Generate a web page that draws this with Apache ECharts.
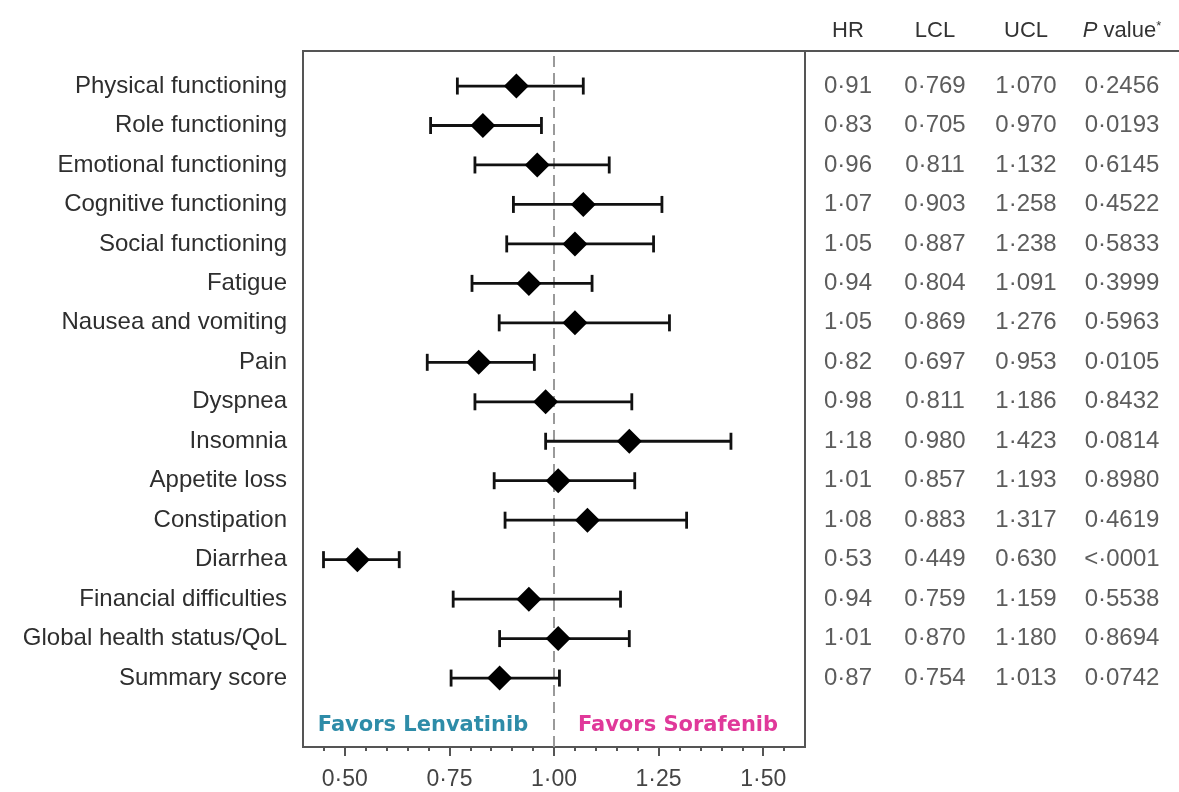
<!DOCTYPE html>
<html><head><meta charset="utf-8">
<script src="https://cdn.jsdelivr.net/npm/echarts@6/dist/echarts.min.js"></script>
<style>html,body{margin:0;padding:0;background:#fff}#c{width:1179px;height:792px}</style>
</head><body><div id="c"></div>
<script>
const categories = ['Physical functioning','Role functioning','Emotional functioning','Cognitive functioning','Social functioning','Fatigue','Nausea and vomiting','Pain','Dyspnea','Insomnia','Appetite loss','Constipation','Diarrhea','Financial difficulties','Global health status/QoL','Summary score'];
const hr  = [0.91,0.83,0.96,1.07,1.05,0.94,1.05,0.82,0.98,1.18,1.01,1.08,0.53,0.94,1.01,0.87];
const lcl = [0.769,0.705,0.811,0.903,0.887,0.804,0.869,0.697,0.811,0.980,0.857,0.883,0.449,0.759,0.870,0.754];
const ucl = [1.070,0.970,1.132,1.258,1.238,1.091,1.276,0.953,1.186,1.423,1.193,1.317,0.630,1.159,1.180,1.013];
const pValues = ['0·2456','0·0193','0·6145','0·4522','0·5833','0·3999','0·5963','0·0105','0·8432','0·0814','0·8980','0·4619','<·0001','0·5538','0·8694','0·0742'];
const tickLabels = ['0·50','0·75','1·00','1·25','1·50'];
const tableHeaders = ['HR','LCL','UCL','P value*'];
const favorsLabels = ['Favors Lenvatinib','Favors Sorafenib'];

const FONT = '"Liberation Sans", Arial, sans-serif';
const dot = (v, d) => v.toFixed(d).replace('.', '·');

// layout constants
const BOX = {left: 303, right: 374, top: 51, bottom: 45};
const ROWS = {top: 66.3, bottom: 94.2};
const colX = [43, 130, 221, 317]; // column centers, offset from table left (805)

const chart = echarts.init(document.getElementById('c'));

const tableCols = [
  hr.map(v => dot(v, 2)),
  lcl.map(v => dot(v, 3)),
  ucl.map(v => dot(v, 3)),
  pValues
];

const tableSeries = tableCols.map((col, c) => ({
  type: 'scatter', xAxisIndex: 4, yAxisIndex: 4, symbolSize: 1,
  itemStyle: {color: 'rgba(0,0,0,0)'}, silent: true,
  data: col.map((t, i) => [colX[c], i, t]),
  label: {show: true, position: 'inside', formatter: p => p.value[2],
    fontFamily: FONT, fontSize: 24, color: '#333'}
}));

const option = {
  animation: false,
  backgroundColor: '#fff',
  grid: [
    {left: BOX.left, right: BOX.right, top: BOX.top, bottom: BOX.bottom, show: true, borderColor: '#555', borderWidth: 2, backgroundColor: 'transparent'},
    {left: BOX.left, right: BOX.right, top: ROWS.top, bottom: ROWS.bottom},
    {left: 323.9, right: 394.9, top: BOX.top, bottom: BOX.bottom},
    {left: 344.8, right: 415.8, top: BOX.top, bottom: BOX.bottom},
    {left: 805, right: 0, top: ROWS.top, bottom: ROWS.bottom}
  ],
  xAxis: [
    {gridIndex: 0, type: 'value', min: 0.4, max: 1.6, show: false},
    {gridIndex: 1, type: 'value', min: 0.4, max: 1.6, show: false},
    {gridIndex: 2, type: 'value', min: 0.45, max: 1.55, interval: 0.05,
      axisLine: {show: false}, splitLine: {show: false}, axisLabel: {show: false},
      axisTick: {show: true, length: 4, lineStyle: {color: '#555', width: 2}}},
    {gridIndex: 3, type: 'value', min: 0.5, max: 1.5, interval: 0.25,
      axisLine: {show: false}, splitLine: {show: false},
      axisTick: {show: true, length: 9, lineStyle: {color: '#555', width: 2}},
      axisLabel: {show: true, margin: 21, fontFamily: FONT, fontSize: 23, color: '#444',
        formatter: v => tickLabels[Math.round((v - 0.5) / 0.25)] || ''}},
    {gridIndex: 4, type: 'value', min: 0, max: 374, show: false}
  ],
  yAxis: [
    {gridIndex: 0, type: 'value', min: 0, max: 1, show: false},
    {gridIndex: 1, type: 'category', inverse: true, data: categories,
      axisLine: {show: false}, axisTick: {show: false}, splitLine: {show: false},
      axisLabel: {margin: 16, fontFamily: FONT, fontSize: 24, color: '#2e2e2e'}},
    {gridIndex: 2, type: 'value', min: 0, max: 1, show: false},
    {gridIndex: 3, type: 'value', min: 0, max: 1, show: false},
    {gridIndex: 4, type: 'category', inverse: true, data: categories, show: false}
  ],
  graphic: [
    {type: 'line', shape: {x1: 805, y1: 51, x2: 1179, y2: 51}, style: {stroke: '#555', lineWidth: 2}},
    ...tableHeaders.map((h, c) => ({
      type: 'text', x: 805 + colX[c], y: 31,
      style: c === 3 ? {
        text: '{i|P} value{s|*}', align: 'center', verticalAlign: 'middle',
        fontFamily: FONT, fontSize: 22, fill: '#333',
        rich: {i: {fontStyle: 'italic', fontFamily: FONT, fontSize: 22, fill: '#333'},
               s: {fontSize: 13, fontFamily: FONT, fill: '#333', verticalAlign: 'top', padding: [0,0,8,0]}}
      } : {text: h, align: 'center', verticalAlign: 'middle', fontFamily: FONT, fontSize: 22, fill: '#333'}
    })),
    {type: 'text', x: 423, y: 726, style: {text: favorsLabels[0], align: 'center', verticalAlign: 'middle',
      fontFamily: '"DejaVu Sans", sans-serif', fontWeight: 'bold', fontSize: 21, fill: '#2e8ca8'}},
    {type: 'text', x: 678, y: 726, style: {text: favorsLabels[1], align: 'center', verticalAlign: 'middle',
      fontFamily: '"DejaVu Sans", sans-serif', fontWeight: 'bold', fontSize: 21, fill: '#e0399a'}}
  ],
  series: [
    {type: 'line', xAxisIndex: 0, yAxisIndex: 0, data: [], silent: true, z: 1,
      markLine: {symbol: 'none', silent: true, label: {show: false}, z: 1,
        lineStyle: {type: [11, 6], color: '#9a9a9a', width: 2},
        data: [{xAxis: 1}]}},
    {type: 'custom', xAxisIndex: 1, yAxisIndex: 1, silent: true, z: 4,
      data: categories.map((c, i) => [lcl[i], ucl[i], i]),
      renderItem: (params, api) => {
        const a = api.coord([api.value(0), api.value(2)]);
        const b = api.coord([api.value(1), api.value(2)]);
        const h = 8.5;
        const st = {stroke: '#111', lineWidth: 2.8};
        return {type: 'group', children: [
          {type: 'line', shape: {x1: a[0], y1: a[1], x2: b[0], y2: b[1]}, style: st},
          {type: 'line', shape: {x1: a[0], y1: a[1] - h, x2: a[0], y2: a[1] + h}, style: st},
          {type: 'line', shape: {x1: b[0], y1: b[1] - h, x2: b[0], y2: b[1] + h}, style: st}
        ]};
      }},
    {type: 'scatter', xAxisIndex: 1, yAxisIndex: 1, silent: true, z: 5,
      symbol: 'diamond', symbolSize: [25, 25], itemStyle: {color: '#000', opacity: 1},
      data: hr.map((v, i) => [v, i])},
    ...tableSeries
  ]
};
chart.setOption(option);
</script>
</body></html>
